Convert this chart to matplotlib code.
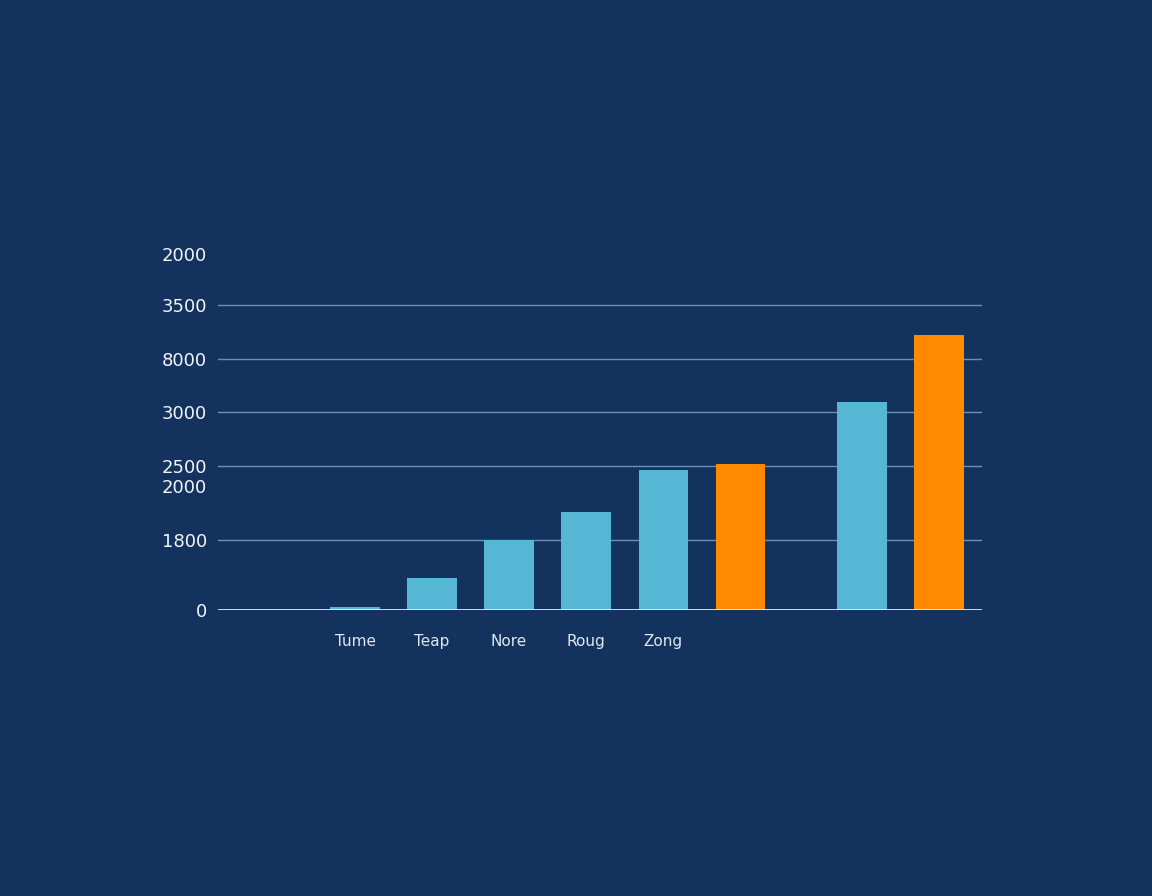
import matplotlib.pyplot as plt

# Data (bar heights, axis units = tenths of a pixel)
categories = ['Tume', 'Teap', 'Nore', 'Roug', 'Zong', '', '', '']
x_pos = [0, 1, 2, 3, 4, 5, 6.58, 7.58]
values = [30, 320, 700, 980, 1400, 1460, 2080, 2750]
highlight = [False, False, False, False, False, True, False, True]

# y tick positions and their (odd) labels as shown
ytick_pos = [0, 700, 1240, 1440, 1980, 2510, 3050, 3560]
ytick_labels = ['0', '1800', '2000', '2500', '3000', '8000', '3500', '2000']
grid_pos = [700, 1440, 1980, 2510, 3050]

# Plot
# ----------------------------------------------------------------------------
bg = '#14325e'
blue = '#55b7d3'
orange = '#ff8a00'

fig = plt.figure(figsize=(11.52, 8.96), dpi=100, facecolor=bg)
ax = fig.add_axes([218 / 1152, (896 - 610) / 896, (982 - 218) / 1152, 370 / 896])
ax.set_facecolor(bg)

for g in grid_pos:
    ax.axhline(g, color='#6f8fbb', lw=1.0, zorder=1)

colors = [orange if h else blue for h in highlight]
ax.bar(x_pos, values, width=0.64, color=colors, zorder=2)
ax.axhline(0, color='#e6ecf3', lw=2.0, zorder=3)

ax.set_xlim(-1.78, 8.14)
ax.set_ylim(0, 3700)
ax.set_xticks(x_pos, categories)
ax.set_yticks(ytick_pos, ytick_labels)
ax.tick_params(axis='y', length=0, pad=8, labelsize=13, labelcolor='#f2f5f9')
ax.tick_params(axis='x', length=0, pad=17, labelsize=11, labelcolor='#dfe7f0')
for s in ax.spines.values():
    s.set_visible(False)

fig.savefig('out.png', dpi=100, facecolor=bg)
